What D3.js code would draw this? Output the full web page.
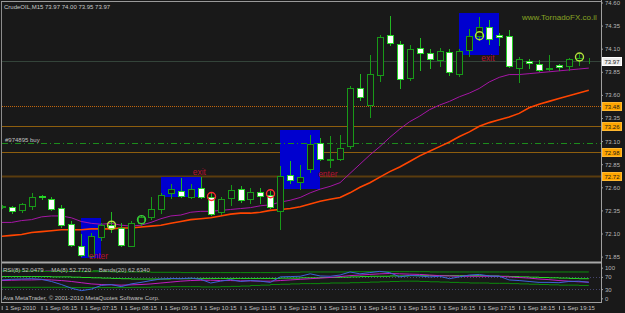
<!DOCTYPE html>
<html>
<head>
<meta charset="utf-8">
<script src="https://cdn.jsdelivr.net/npm/d3@7"></script>
<style>
html, body { margin: 0; padding: 0; background: #191919; }
svg { display: block; }
text { font-family: "Liberation Sans", Arial, sans-serif; }
</style>
</head>
<body>
<div id="chart"></div>
<script>
var width = 625, height = 313;

var symbolTitle = "CrudeOIL,M15  73.97 74.00 73.95 73.97";
var timeLabels = ["1 Sep 2010", "1 Sep 06:15", "1 Sep 07:15", "1 Sep 08:15", "1 Sep 09:15", "1 Sep 10:15",
  "1 Sep 11:15", "1 Sep 12:15", "1 Sep 13:15", "1 Sep 14:15", "1 Sep 15:15", "1 Sep 16:15",
  "1 Sep 17:15", "1 Sep 18:15", "1 Sep 19:15"];
var priceTicks = [74.60, 74.35, 74.10, 73.85, 73.60, 73.35, 73.10, 72.85, 72.60, 72.35, 72.10, 71.85];
var rsiTicks = [100, 70, 30, 0];

var opens  = [72.39,72.39,72.35,72.40,72.51,72.47,72.38,72.20,71.97,71.86,
              72.06,72.19,72.16,71.97,72.21,72.28,72.36,72.54,72.56,72.50,
              72.59,72.50,72.33,72.48,72.58,72.47,72.55,72.52,72.34,72.73,
              72.66,72.80,73.08,72.90,72.91,73.05,73.68,73.49,73.82,74.25,
              74.15,73.78,74.11,74.05,73.98,74.06,73.83,74.09,74.24,74.34,
              74.25,74.24,73.89,73.97,73.93,73.88,73.92,73.91,73.98,73.97];
var highs  = [72.41,72.40,72.43,72.54,72.52,72.50,72.41,72.24,72.09,72.11,
              72.21,72.33,72.21,72.24,72.30,72.49,72.54,72.64,72.70,72.64,
              72.71,72.54,72.49,72.63,72.61,72.59,72.59,72.56,72.83,72.88,
              72.84,73.17,73.13,73.15,73.17,73.70,73.83,74.03,74.25,74.45,
              74.18,74.14,74.22,74.10,74.11,74.10,74.10,74.31,74.44,74.41,
              74.27,74.30,74.01,73.99,73.98,74.03,73.93,74.00,74.04,74.00];
var lows   = [72.38,72.32,72.33,72.37,72.47,72.35,72.17,71.96,71.86,71.85,
              72.03,72.12,71.96,71.96,72.19,72.26,72.32,72.48,72.49,72.48,
              72.48,72.30,72.31,72.41,72.44,72.43,72.43,72.38,72.15,72.65,
              72.58,72.77,72.90,72.82,72.90,73.03,73.54,73.36,73.75,74.14,
              73.68,73.76,73.87,73.89,73.91,73.81,73.80,74.02,74.19,74.15,
              74.14,73.90,73.74,73.89,73.86,73.87,73.87,73.87,73.92,73.95];
var closes = [72.40,72.34,72.42,72.49,72.49,72.37,72.19,71.98,71.87,72.07,
              72.19,72.16,71.98,72.21,72.28,72.37,72.52,72.58,72.51,72.58,
              72.50,72.31,72.47,72.57,72.46,72.55,72.51,72.39,72.72,72.68,
              72.71,73.07,72.91,72.91,73.03,73.67,73.58,73.83,74.23,74.16,
              73.77,74.10,74.05,73.99,74.07,73.85,74.08,74.24,74.33,74.21,
              74.23,73.91,73.99,73.94,73.87,73.89,73.90,73.99,74.00,73.97];

// moving averages on price
var maFast = [72.22,72.22,72.24,72.25,72.28,72.29,72.29,72.27,72.23,72.21,
              72.20,72.21,72.19,72.18,72.19,72.22,72.26,72.29,72.30,72.33,
              72.34,72.34,72.35,72.36,72.37,72.38,72.40,72.41,72.44,72.46,
              72.49,72.54,72.58,72.61,72.65,72.75,72.85,72.95,73.04,73.14,
              73.23,73.31,73.37,73.44,73.49,73.53,73.58,73.62,73.67,73.74,
              73.79,73.82,73.82,73.83,73.84,73.85,73.86,73.87,73.88,73.89];
var maSlow = [72.07,72.08,72.09,72.11,72.12,72.13,72.14,72.14,72.14,72.15,
              72.15,72.15,72.16,72.16,72.17,72.18,72.19,72.21,72.23,72.25,
              72.26,72.27,72.29,72.31,72.32,72.32,72.33,72.35,72.36,72.37,
              72.39,72.42,72.45,72.47,72.49,72.54,72.60,72.65,72.71,72.77,
              72.82,72.88,72.94,72.99,73.04,73.09,73.15,73.20,73.26,73.30,
              73.33,73.36,73.40,73.46,73.50,73.53,73.56,73.59,73.62,73.65];

// RSI window
var rsi      = [60,62,63,64,62, 55,45,33,25,30, 42,45,38,47,52, 58,63,65,64,66,
                62,50,56,61,55, 58,56,52,70,71, 72,80,73,72,76, 86,80,84,88,84,
                70,75,73,70,72, 64,70,76,78,73, 72,60,58,55,52, 52,51,55,56,52];
var rsiMa    = [58,59,60,60,61, 60,58,55,51,47, 45,44,43,44,45, 47,50,53,56,58,
                59,59,58,58,57, 57,56,56,58,60, 62,64,66,68,71, 74,76,78,80,81,
                80,79,78,76,74, 73,72,72,72,72, 72,70,68,66,63, 61,58,56,54,53];
var bandsUp  = [89,89,89,89,88, 88,88,88,87,87, 87,86,86,86,86, 85,85,85,84,84,
                84,84,84,84,84, 84,84,84,85,85, 86,86,86,86,86, 87,87,87,87,87,
                87,87,87,86,86, 86,86,86,86,86, 86,86,86,86,86, 86,86,86,86,86];
var bandsMid = [71,71,71,71,71, 70,70,69,68,67, 66,65,64,63,63, 63,63,64,64,65,
                65,65,65,65,65, 65,65,65,66,66, 67,67,68,68,69, 70,71,72,72,73,
                73,74,74,74,74, 74,74,74,74,73, 72,71,70,69,68, 67,66,65,64,63];
var bandsLow = [36,36,36,36,36, 36,36,35,35,35, 35,35,35,36,36, 37,37,38,38,38,
                37,37,38,39,40, 42,43,45,46,47, 48,48,49,50,50, 51,52,53,54,55,
                56,56,55,54,53, 52,51,50,50,49, 49,48,47,46,45, 44,43,43,42,42];

// chart objects
var levelPrices = [73.48, 73.26, 72.98, 72.72];
var bidPrice = 73.97;
var orderPrice = 73.08;
var orderLabel = "#974895 buy";
var boxStart = [8, 16, 28, 46];
var boxEnd = [10, 20, 32, 50];
var boxTop = [72.27, 72.71, 73.22, 74.49];
var boxBottom = [71.83, 72.50, 72.58, 74.03];
var noteText = ["enter", "exit", "enter", "exit"];
var noteIdx = [8.75, 19.2, 31.8, 48.2];
var notePrice = [71.825, 72.73, 72.71, 73.97];
var circleIdx = [11, 14, 21, 27, 48, 58];
var circlePrice = [72.19, 72.25, 72.50, 72.53, 74.24, 74.01];
var circleType = ["signal", "confirm", "stop", "stop", "signal", "signal"];

var circleColor = {signal: "#b4e23c", confirm: "#3cc83c", stop: "#ff2b2b"};

var svg = d3.select("#chart")
  .append("svg")
    .attr("width", width)
    .attr("height", height)
    .style("background", "#191919");

var x = d3.scaleLinear().domain([0, 59]).range([1.7, 588.8]);
var y = d3.scaleLinear().domain([71.85, 74.60]).range([256.6, 2.5]);
var yi = d3.scaleLinear().domain([0, 100]).range([298.3, 267.7]);
var cx = function (i) { return Math.round(x(i)); };

var defs = svg.append("defs");
defs.append("clipPath").attr("id", "mainClip")
  .append("rect").attr("x", 2).attr("y", 2).attr("width", 599).attr("height", 259.5);
defs.append("clipPath").attr("id", "rsiClip")
  .append("rect").attr("x", 2).attr("y", 264).attr("width", 599).attr("height", 38.5);

var main = svg.append("g").attr("clip-path", "url(#mainClip)");

// horizontal levels
main.append("line")
  .attr("x1", 2).attr("x2", 601)
  .attr("y1", Math.round(y(bidPrice)) + 0.5).attr("y2", Math.round(y(bidPrice)) + 0.5)
  .attr("stroke", "#34443a");

main.selectAll(".level")
  .data(levelPrices)
  .enter()
  .append("line")
    .attr("x1", 2).attr("x2", 601)
    .attr("y1", function (d) { return Math.round(y(d)) + 0.5; })
    .attr("y2", function (d) { return Math.round(y(d)) + 0.5; })
    .attr("stroke", function (d, i) { return i == 0 ? "#c0660e" : (i == 3 ? "#5a3c0e" : "#8e5e0e"); })
    .attr("stroke-width", function (d, i) { return i == 3 ? 2 : 1; })
    .attr("stroke-dasharray", function (d, i) { return i == 0 ? "1,1" : null; });

// boxes
main.selectAll(".box")
  .data(boxStart)
  .enter()
  .append("rect")
    .attr("x", function (d, i) { return cx(boxStart[i]); })
    .attr("y", function (d, i) { return Math.round(y(boxTop[i])); })
    .attr("width", function (d, i) { return cx(boxEnd[i]) - cx(boxStart[i]); })
    .attr("height", function (d, i) { return Math.round(y(boxBottom[i])) - Math.round(y(boxTop[i])); })
    .style("fill", "#0000cf");

// order line
main.append("line")
  .attr("x1", 2).attr("x2", 601)
  .attr("y1", Math.round(y(orderPrice)) + 0.5).attr("y2", Math.round(y(orderPrice)) + 0.5)
  .attr("stroke", "#1c8c1c")
  .attr("stroke-dasharray", "6,3,1,3");
main.append("text")
  .attr("x", 5).attr("y", Math.round(y(orderPrice)) - 1)
  .attr("font-size", 6).attr("fill", "#c0c0c0")
  .text(orderLabel);

// moving averages
var maLine = d3.line()
  .x(function (d, i) { return x(i); })
  .y(function (d) { return y(d); });
main.append("path").datum(maFast)
  .attr("d", maLine).attr("fill", "none")
  .attr("stroke", "#a616a6").attr("stroke-width", 1);
main.append("path").datum(maSlow)
  .attr("d", maLine).attr("fill", "none")
  .attr("stroke", "#ff4500").attr("stroke-width", 1.6);

// candles
var idx = d3.range(opens.length);
var candle = main.append("g").selectAll("g")
  .data(idx)
  .enter()
  .append("g");
candle.append("line")
  .attr("x1", function (i) { return cx(i) + 0.5; })
  .attr("x2", function (i) { return cx(i) + 0.5; })
  .attr("y1", function (i) { return Math.round(y(highs[i])); })
  .attr("y2", function (i) { return Math.round(y(lows[i])) + 1; })
  .attr("stroke", function (i) { return closes[i] >= opens[i] ? "#189a18" : "#22b822"; });
candle.append("rect")
  .attr("x", function (i) { return cx(i) - 2.5; })
  .attr("y", function (i) { return Math.round(y(Math.max(opens[i], closes[i]))) + 0.5; })
  .attr("width", 6)
  .attr("height", function (i) {
    return Math.max(0, Math.round(y(Math.min(opens[i], closes[i]))) - Math.round(y(Math.max(opens[i], closes[i]))));
  })
  .style("fill", function (i) { return closes[i] >= opens[i] ? "#191919" : "#ffffff"; })
  .attr("stroke", function (i) { return closes[i] >= opens[i] ? "#189a18" : "#26d426"; });

// signal circles
main.selectAll(".sig")
  .data(circleIdx)
  .enter()
  .append("circle")
    .attr("cx", function (d) { return cx(d) + 0.5; })
    .attr("cy", function (d, i) { return y(circlePrice[i]); })
    .attr("r", 4)
    .style("fill", "none")
    .attr("stroke", function (d, i) { return circleColor[circleType[i]]; })
    .attr("stroke-width", 1.4);

// notes
main.selectAll(".note")
  .data(noteText)
  .enter()
  .append("text")
    .attr("x", function (d, i) { return x(noteIdx[i]); })
    .attr("y", function (d, i) { return y(notePrice[i]); })
    .attr("font-size", 8.5)
    .attr("fill", "#b41232")
    .text(function (d) { return d; });

svg.append("text")
  .attr("x", 4).attr("y", 9)
  .attr("font-size", 6).attr("fill", "#c8c8c8")
  .text(symbolTitle);
svg.append("text")
  .attr("x", 522).attr("y", 19.5)
  .attr("font-size", 8).attr("fill", "#88a424")
  .text("www.TornadoFX.co.il");

// RSI window
var rsiG = svg.append("g").attr("clip-path", "url(#rsiClip)");
rsiG.selectAll(".lvl")
  .data([70, 30])
  .enter()
  .append("line")
    .attr("x1", 2).attr("x2", 601)
    .attr("y1", function (d) { return Math.round(yi(d)) + 0.5; })
    .attr("y2", function (d) { return Math.round(yi(d)) + 0.5; })
    .attr("stroke", "#45456e")
    .attr("stroke-dasharray", "1,2");
var rLine = d3.line()
  .x(function (d, i) { return x(i); })
  .y(function (d) { return yi(d); })
  .curve(d3.curveStepAfter);
var rsiSeries = [bandsUp, bandsLow, bandsMid, rsiMa, rsi];
var rsiColors = ["#0c8c0c", "#0c8c0c", "#26dc26", "#c01ec0", "#3c64d8"];
rsiG.selectAll(".rs")
  .data(rsiSeries)
  .enter()
  .append("path")
    .attr("d", function (d, i) { return i < 3 ? rLine(d) : d3.line().x(function (v, j) { return x(j); }).y(function (v) { return yi(v); })(d); })
    .attr("fill", "none")
    .attr("stroke", function (d, i) { return rsiColors[i]; })
    .attr("stroke-width", 1);

var rsiText = svg.append("text")
  .attr("x", 3).attr("y", 271.5)
  .attr("font-size", 6).attr("fill", "#c0c0c0");
rsiText.append("tspan").text("RSI(8) 52.0479 ");
rsiText.append("tspan").attr("fill", "#c01ec0").text("\u2014");
rsiText.append("tspan").text("MA(8) 52.7720 ");
rsiText.append("tspan").attr("fill", "#26dc26").text("\u2014");
rsiText.append("tspan").text("Bands(20) 62.6340");

svg.append("text")
  .attr("x", 3).attr("y", 300)
  .attr("font-size", 6).attr("fill", "#c0c0c0")
  .text("Ava MetaTrader, \u00a9 2001-2010 MetaQuotes Software Corp.");

// frame
svg.append("line").attr("x1", 1.5).attr("x2", 1.5).attr("y1", 1).attr("y2", 303).attr("stroke", "#8c8c8c");
svg.append("line").attr("x1", 1).attr("x2", 602).attr("y1", 1.5).attr("y2", 1.5).attr("stroke", "#9a9a9a");
svg.append("line").attr("x1", 601.5).attr("x2", 601.5).attr("y1", 0).attr("y2", 303).attr("stroke", "#a0a0a0");
svg.append("rect").attr("x", 2).attr("y", 261.5).attr("width", 600).attr("height", 2).style("fill", "#a8a8a8");
svg.append("line").attr("x1", 1).attr("x2", 602).attr("y1", 302.5).attr("y2", 302.5).attr("stroke", "#a0a0a0");

// price axis
var pAxis = svg.append("g")
  .attr("transform", "translate(601,0)")
  .call(d3.axisRight(y).tickValues(priceTicks).tickSize(2).tickPadding(2).tickFormat(d3.format(".2f")));
pAxis.attr("font-size", 6).attr("font-family", "Liberation Sans, Arial, sans-serif");
pAxis.select(".domain").remove();
pAxis.selectAll("line").attr("stroke", "#a0a0a0");
pAxis.selectAll("text").attr("fill", "#b8b8b8");

var iAxis = svg.append("g")
  .attr("transform", "translate(601,0)")
  .call(d3.axisRight(yi).tickValues(rsiTicks).tickSize(2).tickPadding(2));
iAxis.attr("font-size", 6).attr("font-family", "Liberation Sans, Arial, sans-serif");
iAxis.select(".domain").remove();
iAxis.selectAll("line").attr("stroke", "#a0a0a0");
iAxis.selectAll("text").attr("fill", "#b8b8b8");

// price tags
var tagPrices = [bidPrice].concat(levelPrices);
var tag = svg.selectAll(".tag")
  .data(tagPrices)
  .enter()
  .append("g")
    .attr("transform", function (d) { return "translate(602," + Math.round(y(d)) + ")"; });
tag.append("rect")
  .attr("x", 0.5).attr("y", -3.5).attr("width", 19).attr("height", 8)
  .style("fill", function (d, i) { return i == 0 ? "#ececec" : "#ffa500"; })
  .attr("stroke", function (d, i) { return i == 0 ? "#ffffff" : "#ffb830"; });
tag.append("text")
  .attr("x", 2.5).attr("y", 2.6)
  .attr("font-size", 6).attr("fill", "#1a1a1a")
  .text(function (d) { return d.toFixed(2); });

// time axis
var timeIdx = timeLabels.map(function (d, i) { return i * 4; });
var tAxis = svg.append("g")
  .attr("transform", "translate(0,303)")
  .call(d3.axisBottom(x).tickValues(timeIdx).tickSize(7)
    .tickFormat(function (d, i) { return timeLabels[i]; }));
tAxis.attr("font-size", 6).attr("font-family", "Liberation Sans, Arial, sans-serif");
tAxis.select(".domain").remove();
tAxis.selectAll("line").attr("stroke", "#a0a0a0").attr("y1", 3);
tAxis.selectAll("text")
  .attr("fill", "#c0c0c0")
  .attr("text-anchor", "start")
  .attr("x", 3).attr("y", 3);
</script>
</body>
</html>
